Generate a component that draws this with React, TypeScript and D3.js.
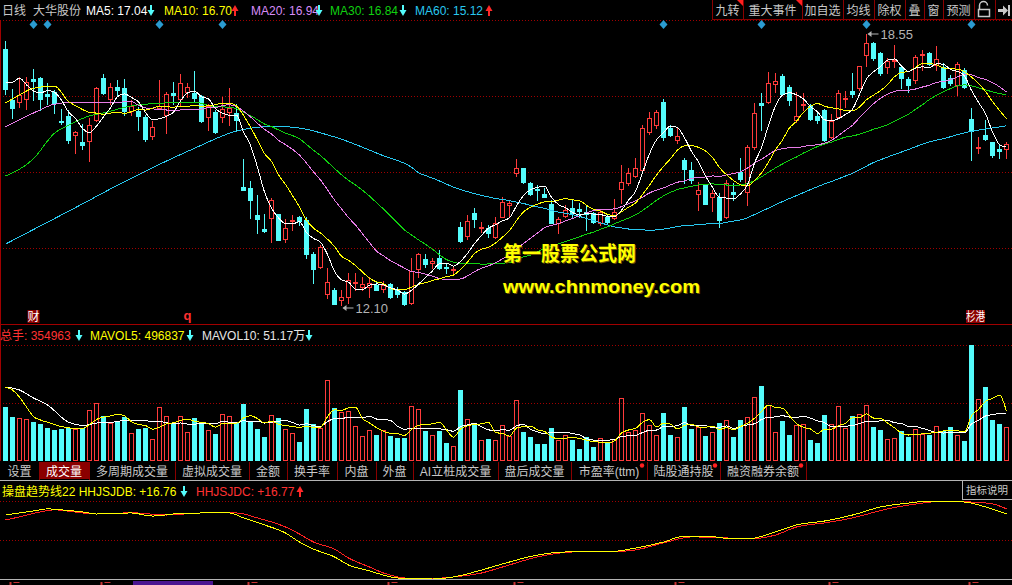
import React from "react";
import * as d3 from "d3";

type Bar = [number, number, number, number];
type Pt = [number, number];

const W = 1012;
const H = 585;

// Daily bars: [open, high, low, close]
const bars: Bar[] = [
  [18.19, 18.38, 17.12, 17.24], [16.98, 17.24, 16.55, 16.79], [16.93, 17.53, 16.81, 17.10], [17.00, 17.53, 16.76, 17.41],
  [17.48, 17.72, 16.98, 17.43], [17.50, 17.53, 16.74, 17.00], [17.12, 17.38, 16.88, 17.07], [17.17, 17.22, 16.67, 16.91],
  [16.48, 16.76, 16.41, 16.46], [16.60, 16.74, 15.96, 16.03], [16.15, 16.24, 15.72, 16.22], [15.98, 16.41, 15.81, 15.91],
  [16.00, 16.55, 15.53, 16.38], [16.50, 17.29, 16.48, 17.26], [17.50, 17.60, 17.12, 17.14], [17.00, 17.38, 16.88, 17.29],
  [17.29, 17.46, 17.07, 17.22], [17.26, 17.48, 16.62, 16.72], [16.72, 16.98, 16.62, 16.83], [16.72, 16.81, 16.26, 16.60],
  [16.57, 16.62, 16.00, 16.05], [16.12, 16.48, 16.05, 16.34], [16.79, 17.46, 16.76, 16.84], [16.62, 17.17, 16.19, 17.12],
  [17.14, 17.41, 16.88, 17.10], [17.00, 17.60, 16.84, 17.38], [17.17, 17.38, 17.05, 17.29], [17.14, 17.67, 16.93, 17.03],
  [17.07, 17.10, 16.46, 16.48], [16.57, 16.88, 16.26, 16.84], [16.69, 16.74, 16.19, 16.22], [16.57, 17.05, 16.46, 16.76],
  [16.69, 17.26, 16.38, 16.79], [16.67, 16.88, 16.26, 16.50], [14.91, 15.58, 14.84, 14.84], [14.88, 15.05, 14.17, 14.60],
  [14.24, 14.72, 13.81, 14.15], [13.91, 14.26, 13.84, 13.86], [14.17, 14.65, 13.60, 14.60], [14.26, 14.26, 13.65, 13.65],
  [13.67, 14.15, 13.60, 13.93], [14.10, 14.24, 13.88, 14.12], [14.19, 14.22, 14.00, 14.10], [14.12, 14.19, 13.22, 13.31],
  [13.31, 13.36, 12.62, 12.96], [13.00, 13.53, 12.98, 13.48], [12.36, 12.98, 12.27, 12.65], [12.45, 12.50, 12.12, 12.12],
  [12.22, 12.45, 12.10, 12.29], [12.29, 12.86, 12.15, 12.69], [12.62, 12.86, 12.45, 12.65], [12.53, 12.76, 12.45, 12.60],
  [12.53, 12.76, 12.29, 12.62], [12.57, 12.65, 12.45, 12.45], [12.48, 12.67, 12.41, 12.57], [12.60, 12.62, 12.27, 12.29],
  [12.48, 12.53, 12.29, 12.36], [12.41, 12.43, 12.11, 12.12], [12.15, 13.22, 12.12, 12.91], [12.96, 13.34, 12.76, 13.31],
  [13.19, 13.31, 13.00, 13.07], [13.10, 13.22, 12.98, 13.15], [13.22, 13.41, 12.96, 12.98], [13.00, 13.10, 12.86, 12.98],
  [12.93, 13.00, 12.86, 12.96], [13.95, 14.07, 13.60, 13.62], [13.74, 14.24, 13.67, 14.10], [14.29, 14.41, 13.95, 14.15],
  [13.93, 14.07, 13.84, 13.95], [13.93, 14.00, 13.72, 13.81], [13.72, 14.19, 13.69, 14.05], [14.19, 14.67, 14.19, 14.55],
  [14.48, 14.60, 14.19, 14.53], [15.24, 15.58, 15.17, 15.36], [15.36, 15.36, 15.00, 15.03], [15.00, 15.03, 14.72, 14.74],
  [14.86, 14.96, 14.60, 14.84], [14.74, 14.88, 14.67, 14.67], [14.50, 14.60, 14.05, 14.05], [14.05, 14.19, 13.81, 14.15],
  [14.22, 14.48, 14.19, 14.36], [14.41, 14.62, 14.19, 14.29], [14.38, 14.53, 14.19, 14.34], [14.31, 14.46, 13.88, 14.26],
  [14.29, 14.31, 14.05, 14.07], [14.05, 14.36, 14.00, 14.31], [14.19, 14.24, 14.05, 14.07], [14.17, 14.62, 14.15, 14.31],
  [14.86, 15.43, 14.53, 15.03], [15.00, 15.36, 14.96, 15.24], [15.17, 15.60, 15.15, 15.36], [15.31, 16.38, 15.26, 16.31],
  [16.22, 16.69, 16.17, 16.55], [16.38, 16.74, 16.31, 16.69], [16.93, 17.00, 16.03, 16.10], [16.31, 16.38, 16.12, 16.15],
  [16.03, 16.31, 15.96, 16.12], [15.55, 15.60, 15.00, 15.34], [15.31, 15.50, 15.00, 15.07], [14.74, 15.03, 14.36, 14.84],
  [14.96, 14.96, 14.50, 14.50], [14.67, 14.84, 14.34, 14.77], [14.67, 14.77, 13.95, 14.12], [14.19, 15.07, 14.17, 15.00],
  [14.79, 15.00, 14.60, 14.74], [15.26, 15.60, 15.05, 15.10], [14.79, 15.91, 14.48, 15.86], [15.86, 16.91, 15.81, 16.67],
  [16.91, 17.14, 16.26, 16.86], [16.93, 17.65, 16.91, 17.38], [17.36, 17.62, 17.17, 17.43], [17.55, 17.60, 17.10, 17.12],
  [17.29, 17.34, 16.86, 16.98], [16.50, 17.17, 16.46, 16.60], [16.86, 17.14, 16.74, 16.88], [16.84, 16.88, 16.50, 16.53],
  [16.60, 16.67, 16.43, 16.50], [16.74, 16.76, 16.00, 16.03], [16.10, 16.65, 16.07, 16.48], [16.57, 17.22, 16.55, 17.14],
  [17.00, 17.19, 16.81, 17.03], [17.19, 17.62, 17.05, 17.12], [17.26, 17.79, 17.22, 17.79], [18.05, 18.55, 17.79, 18.34],
  [18.34, 18.36, 17.93, 17.98], [18.10, 18.12, 17.57, 17.62], [17.76, 17.98, 17.62, 17.91], [17.91, 18.29, 17.76, 17.93],
  [17.76, 17.81, 17.26, 17.50], [17.48, 17.53, 17.17, 17.34], [17.46, 18.05, 17.38, 18.00], [18.05, 18.17, 17.69, 18.07],
  [18.10, 18.12, 17.81, 17.84], [17.81, 18.26, 17.69, 17.95], [17.76, 17.86, 17.26, 17.29], [17.50, 17.57, 17.34, 17.38],
  [17.34, 17.88, 17.10, 17.84], [17.69, 17.74, 17.26, 17.29], [16.53, 16.79, 15.55, 16.24], [15.84, 16.10, 15.72, 15.86],
  [16.15, 16.50, 16.03, 16.05], [15.98, 15.98, 15.62, 15.67], [15.81, 15.91, 15.60, 15.77], [15.81, 15.98, 15.60, 15.93],
];

// Daily volume in 万手
const volumes: number[] = [
  68.5, 55.8, 54.5, 53.2, 49.4, 46.9, 41.8, 39.3, 40.6, 42.47,
  41.2, 41.84, 64.65, 73.12, 57.68, 48.17, 51.34, 55.73, 35.4963, 40.6,
  41.8, 27.9, 68.5, 57.0, 46.9, 57.0, 36.8, 54.5, 49.4, 39.3,
  34.2, 59.6, 57.0, 49.4, 72.3, 49.4, 40.6, 30.4, 58.3, 54.5,
  40.6, 35.5, 24.1, 65.9, 46.9, 41.8, 102.7, 67.2, 62.1, 63.4,
  44.4, 31.7, 39.3, 33.0, 39.3, 31.7, 29.2, 29.2, 69.7, 65.9,
  38.0, 33.0, 38.0, 22.8, 19.0, 90.0, 53.2, 46.9, 26.6, 27.9,
  26.6, 45.6, 31.7, 77.3, 36.8, 30.4, 21.6, 21.6, 41.8, 26.6,
  33.0, 26.6, 15.2, 30.4, 17.7, 29.2, 22.8, 27.9, 79.9, 36.8,
  39.3, 60.9, 45.6, 33.0, 60.9, 33.0, 30.4, 68.5, 40.6, 43.1,
  31.7, 36.8, 48.2, 52.0, 30.4, 52.0, 55.8, 81.1, 95.1, 71.0,
  36.8, 50.7, 33.0, 45.6, 46.9, 26.6, 22.8, 58.3, 46.9, 69.7,
  41.8, 57.0, 59.6, 71.0, 43.1, 39.3, 27.9, 29.2, 38.0, 30.4,
  40.6, 34.2, 33.0, 44.4, 38.0, 43.1, 33.0, 25.4, 147.1, 78.6,
  93.8, 52.0, 46.9, 43.1,
];

// Moving-average values before each window fills: [bar index, value]
const ma5Lead: Pt[] = [[0, 17.40], [1, 17.40], [2, 17.50], [3, 17.34]];
const ma10Lead: Pt[] = [[0, 16.91], [2, 17.10], [4, 17.26], [7, 17.31]];
const ma20Lead: Pt[] = [[0, 16.34], [4, 16.67], [7, 16.88], [10, 16.93], [14, 16.91], [18, 16.94]];
const ma30Lead: Pt[] = [[0, 15.17], [4, 15.58], [7, 16.19], [9, 16.38], [12, 16.60], [14, 16.67], [18, 16.84], [23, 16.91], [27, 16.93]];
const ma60Lead: Pt[] = [[0, 13.55], [9, 14.33], [18, 15.12], [27, 15.83], [33, 16.24], [37, 16.34], [40, 16.34], [47, 16.10], [54, 15.65], [58, 15.38]];
const mavol5Lead: Pt[] = [[0, 93.8], [1, 90.0], [2, 81.1], [3, 68.5]];
const mavol10Lead: Pt[] = [[0, 93.8], [2, 90.0], [4, 79.9], [6, 71.0]];

// 操盘趋势线 values: [bar index, value]
const trendB: Pt[] = [
  [0, 16.64], [2, 16.76], [4, 16.88], [6, 17.00], [8, 16.94], [11, 16.82], [13, 16.70], [18, 16.76], [21, 16.58], [24, 16.70],
  [28, 16.76], [32, 16.76], [34, 16.47], [37, 16.06], [40, 15.59], [42, 15.06], [44, 14.65], [47, 14.19], [49, 13.72], [52, 13.37],
  [54, 13.13], [56, 12.96], [61, 12.90], [64, 13.02], [67, 13.31], [71, 13.78], [76, 14.30], [80, 14.48], [86, 14.48], [90, 14.71],
  [94, 15.06], [97, 15.41], [100, 15.41], [104, 15.24], [106, 15.24], [110, 15.65], [113, 16.06], [117, 16.29], [121, 16.64], [125, 17.11],
  [129, 17.34], [132, 17.46], [137, 17.40], [140, 17.11], [143, 16.70],
];
const trendC: Pt[] = [
  [0, 16.35], [2, 16.53], [5, 16.82], [7, 16.94], [11, 16.76], [13, 16.70], [18, 16.77], [23, 16.64], [28, 16.76], [33, 16.76],
  [36, 16.47], [40, 15.94], [42, 15.53], [44, 15.06], [47, 14.65], [49, 14.13], [52, 13.60], [54, 13.25], [56, 13.02], [59, 12.90],
  [64, 13.02], [68, 13.25], [71, 13.60], [76, 14.19], [81, 14.48], [86, 14.48], [90, 14.60], [94, 15.01], [98, 15.36], [103, 15.30],
  [106, 15.24], [110, 15.47], [113, 15.94], [117, 16.18], [121, 16.47], [126, 17.00], [131, 17.34], [134, 17.46], [138, 17.40], [141, 17.29],
  [143, 17.00],
];

// Bars carrying an event marker
const eventBars = [4, 6, 22, 31, 94, 108, 123, 138];

// Bars whose date labels sit in the clipped strip under the last panel
const dateLabelBars = [1, 14, 35, 55, 73, 96, 118, 138];

const volumeTabs = ["设置", "成交量", "多周期成交量", "虚拟成交量", "金额", "换手率", "内盘", "外盘", "AI立桩成交量", "盘后成交量", "市盈率(ttm)", "陆股通持股", "融资融券余额"];
const toolButtons = ["九转", "重大事件", "加自选", "均线", "除权", "叠", "窗", "预测"];

const RED = "#ff3b3b";
const CYAN = "#54fcfc";
const GRID = "#a00000";
const BORDER = "#a00000";
const LIGHT = "#c8c8c8";
const FONT = "'Liberation Sans', Arial, 'Noto Sans CJK SC', sans-serif";

function movingAverage(values: number[], period: number, lead: Pt[]): Pt[] {
  const pts: Pt[] = lead.map((p) => [p[0], p[1]] as Pt);
  for (let i = period - 1; i < values.length; i++) {
    pts.push([i, d3.mean(values.slice(i - period + 1, i + 1)) as number]);
  }
  return pts;
}

function Arrow({ x, y, dir, color }: { x: number; y: number; dir: "up" | "down"; color: string }) {
  if (dir === "down") {
    return (
      <g fill={color}>
        <rect x={x - 1} y={y} width={2} height={6} />
        <path d={`M${x - 3.5},${y + 5}L${x + 3.5},${y + 5}L${x},${y + 11}Z`} />
      </g>
    );
  }
  return (
    <g fill={color}>
      <path d={`M${x},${y}L${x - 3.5},${y + 6}L${x + 3.5},${y + 6}Z`} />
      <rect x={x - 1} y={y + 5} width={2} height={6} />
    </g>
  );
}

export default function App() {
  const n = bars.length;
  const x = d3.scaleBand<number>().domain(d3.range(n)).range([2, 1010]);
  const cx = (i: number) => (x(i) as number) + x.bandwidth() / 2;

  const yP = d3
    .scaleLinear()
    .domain([d3.min(bars, (b) => b[2]) as number, d3.max(bars, (b) => b[1]) as number])
    .range([305, 34]);
  const yV = d3.scaleLinear().domain([0, d3.max(volumes) as number]).range([461, 345]);
  const yT = d3
    .scaleLinear()
    .domain(d3.extent([...trendB, ...trendC].map((d) => d[1])) as [number, number])
    .range([579, 501]);

  const closes = bars.map((b) => b[3]);
  const priceLine = d3.line<Pt>().x((d) => cx(d[0])).y((d) => yP(d[1])).curve(d3.curveMonotoneX);
  const volLine = d3.line<Pt>().x((d) => cx(d[0])).y((d) => yV(d[1])).curve(d3.curveMonotoneX);
  const trendLine = d3.line<Pt>().x((d) => cx(d[0])).y((d) => yT(d[1])).curve(d3.curveMonotoneX);

  const maLines = [
    { pts: movingAverage(closes, 60, ma60Lead), color: "#28c8f0" },
    { pts: movingAverage(closes, 30, ma30Lead), color: "#10d010" },
    { pts: movingAverage(closes, 20, ma20Lead), color: "#e87ce8" },
    { pts: movingAverage(closes, 10, ma10Lead), color: "#ffff00" },
    { pts: movingAverage(closes, 5, ma5Lead), color: "#ffffff" },
  ];
  const mavol10 = movingAverage(volumes, 10, mavol10Lead);
  const mavol5 = movingAverage(volumes, 5, mavol5Lead);

  const hiIdx = d3.maxIndex(bars, (b) => b[1]);
  const loIdx = d3.minIndex(bars, (b) => b[2]);

  const tabEdges = [0, 39, 89, 175, 249, 287, 337, 376, 413, 498, 571, 647, 720, 806];
  const btnEdges = [712, 743, 802, 843, 874, 905, 924, 943, 974, 995, 1012];

  const maLegend = [
    { text: "MA5: 17.04", color: "#ffffff", x: 86, ax: 151, dir: "down" as const },
    { text: "MA10: 16.70", color: "#ffff00", x: 164, ax: 235, dir: "up" as const },
    { text: "MA20: 16.94", color: "#d88cf8", x: 251, ax: 319, dir: "down" as const },
    { text: "MA30: 16.84", color: "#10d010", x: 330, ax: 403, dir: "down" as const },
    { text: "MA60: 15.12", color: "#28c8f0", x: 415, ax: 489, dir: "up" as const },
  ];

  const dotted = (y: number, x0 = 0, x1 = W) => (
    <line x1={x0} x2={x1} y1={y + 0.5} y2={y + 0.5} stroke={GRID} strokeDasharray="1 2" />
  );

  return (
    <div style={{ position: "fixed", left: 0, top: 0, width: W, height: H, background: "#000" }}>
      <svg width={W} height={H} style={{ display: "block", fontFamily: FONT }}>
        <rect width={W} height={H} fill="#000" />

        {/* header legend */}
        <text x={2} y={15} fontSize={12} fill={LIGHT}>日线</text>
        <text x={33} y={15} fontSize={12} fill={LIGHT}>大华股份</text>
        {maLegend.map((m) => (
          <g key={m.text}>
            <text x={m.x} y={15} fontSize={12} fill={m.color}>{m.text}</text>
            <Arrow x={m.ax} y={5} dir={m.dir} color={m.dir === "down" ? CYAN : "#ff2828"} />
          </g>
        ))}

        {/* toolbar */}
        {toolButtons.map((b, i) => {
          const x0 = btnEdges[i];
          const x1 = btnEdges[i + 1];
          return (
            <g key={b}>
              <text x={(x0 + x1) / 2} y={15} fontSize={12} fill={LIGHT} textAnchor="middle">{b}</text>
              {i < 2 && <path d={`M${x1 - 6},0L${x1},0L${x1},6Z`} fill="#ff2020" />}
            </g>
          );
        })}
        {btnEdges.slice(0, -1).map((e) => (
          <line key={e} x1={e + 0.5} x2={e + 0.5} y1={0} y2={19} stroke="#8a0000" />
        ))}
        <line x1={712} x2={W} y1={19.5} y2={19.5} stroke="#8a0000" />
        {/* lock icon */}
        <path d="M979.5,9.5V5.5a4,4 0 0 1 8,0" fill="none" stroke={LIGHT} strokeWidth={1.5} />
        <rect x={978.5} y={9.5} width={11} height={7} fill="none" stroke={LIGHT} strokeWidth={1.5} />
        {/* expand icon */}
        <path d="M998,9H1003V5.5L1008,10.5L1003,15.5V12H998Z" fill={LIGHT} />
        <rect x={1008} y={5} width={2} height={11} fill={LIGHT} />

        {/* main panel frame and grid */}
        {dotted(20)}
        {dotted(96)}
        {dotted(172)}
        {dotted(248)}
        <line x1={0.5} x2={0.5} y1={20} y2={461} stroke={BORDER} />
        <line x1={0} x2={W} y1={324.5} y2={324.5} stroke={BORDER} />

        {/* event diamonds */}
        {eventBars.map((i) => (
          <path key={i} d={`M${cx(i)},20L${cx(i) + 4},24.5L${cx(i)},29L${cx(i) - 4},24.5Z`} fill="#2b9bd1" />
        ))}

        {/* candles */}
        <g shapeRendering="crispEdges">
          {bars.map(([o, h, l, c], i) => {
            const up = c >= o;
            const color = up ? RED : CYAN;
            const left = cx(i) - 2.5;
            const top = Math.round(yP(Math.max(o, c)));
            const bot = Math.round(yP(Math.min(o, c)));
            const hi = Math.round(yP(h));
            const lo = Math.round(yP(l));
            return (
              <g key={i}>
                {hi < top && <line x1={cx(i)} x2={cx(i)} y1={hi} y2={top} stroke={color} />}
                {lo > bot && <line x1={cx(i)} x2={cx(i)} y1={bot + 1} y2={lo + 1} stroke={color} />}
                {bot - top < 1 ? (
                  <rect x={left} y={top} width={5} height={1} fill={color} />
                ) : up ? (
                  <rect x={left + 0.5} y={top + 0.5} width={4} height={bot - top} fill="#000" stroke={color} />
                ) : (
                  <rect x={left} y={top} width={5} height={bot - top + 1} fill={color} />
                )}
              </g>
            );
          })}
        </g>

        {/* moving averages */}
        <g fill="none" shapeRendering="crispEdges">
          {maLines.map((m) => (
            <path key={m.color} d={priceLine(m.pts) as string} stroke={m.color} strokeWidth={1} />
          ))}
        </g>

        {/* high / low annotations */}
        <g fill="#b4b4b4" stroke="#b4b4b4">
          <line x1={cx(hiIdx) + 2} x2={cx(hiIdx) + 12} y1={yP(bars[hiIdx][1])} y2={yP(bars[hiIdx][1])} />
          <path d={`M${cx(hiIdx) + 1},${yP(bars[hiIdx][1])}l4,-3v6Z`} stroke="none" />
          <text x={cx(hiIdx) + 14} y={yP(bars[hiIdx][1]) + 5} fontSize={13} stroke="none">{bars[hiIdx][1].toFixed(2)}</text>
          <line x1={cx(loIdx) + 2} x2={cx(loIdx) + 12} y1={yP(bars[loIdx][2]) + 3} y2={yP(bars[loIdx][2]) + 3} />
          <path d={`M${cx(loIdx) + 1},${yP(bars[loIdx][2]) + 3}l4,-3v6Z`} stroke="none" />
          <text x={cx(loIdx) + 14} y={yP(bars[loIdx][2]) + 8} fontSize={13} stroke="none">{bars[loIdx][2].toFixed(2)}</text>
        </g>

        {/* bottom markers */}
        <rect x={cx(4) - 6} y={310} width={12} height={13} fill="#8b0000" />
        <text x={cx(4)} y={321} fontSize={12} fill="#fff" textAnchor="middle">财</text>
        <text x={cx(26)} y={320} fontSize={13} fontWeight="bold" fill="#ff3030" textAnchor="middle">q</text>
        <rect x={966} y={310} width={19} height={13} fill="#8b0000" />
        <text x={975.5} y={321} fontSize={12} fill="#fff" textAnchor="middle" textLength={19} lengthAdjust="spacingAndGlyphs">杉港</text>

        {/* watermark */}
        <g fontWeight="bold">
          <text x={504} y={262} fontSize={20} fill="#6a5200" textLength={133} lengthAdjust="spacingAndGlyphs">第一股票公式网</text>
          <text x={503} y={261} fontSize={20} fill="#ffff00" textLength={133} lengthAdjust="spacingAndGlyphs">第一股票公式网</text>
          <text x={504} y={294} fontSize={19} fill="#6a5200" textLength={197} lengthAdjust="spacingAndGlyphs">www.chnmoney.com</text>
          <text x={503} y={293} fontSize={19} fill="#ffff00" textLength={197} lengthAdjust="spacingAndGlyphs">www.chnmoney.com</text>
        </g>

        {/* volume panel */}
        <text x={0} y={340} fontSize={12} fill="#ff3232">总手: 354963</text>
        <Arrow x={79} y={330} dir="down" color={CYAN} />
        <text x={90} y={340} fontSize={12} fill="#ffff00">MAVOL5: 496837</text>
        <Arrow x={190} y={330} dir="down" color={CYAN} />
        <text x={202} y={340} fontSize={12} fill="#e6e6e6">MAVOL10: 51.17万</text>
        <Arrow x={309} y={330} dir="down" color={CYAN} />
        {dotted(345)}
        {dotted(403)}
        <g shapeRendering="crispEdges">
          {volumes.map((v, i) => {
            const up = bars[i][3] >= bars[i][0];
            const left = cx(i) - 2.5;
            const top = Math.round(yV(v));
            return up ? (
              <rect key={i} x={left + 0.5} y={top + 0.5} width={4} height={460 - top} fill="none" stroke={RED} />
            ) : (
              <rect key={i} x={left} y={top} width={5} height={461 - top} fill={CYAN} />
            );
          })}
        </g>
        <g fill="none" shapeRendering="crispEdges">
          <path d={volLine(mavol10) as string} stroke="#ffffff" />
          <path d={volLine(mavol5) as string} stroke="#ffff00" />
        </g>

        {/* indicator tabs */}
        <rect x={tabEdges[1]} y={462} width={tabEdges[2] - tabEdges[1]} height={17} fill="#8b0000" />
        {volumeTabs.map((t, i) => {
          const x0 = tabEdges[i];
          const x1 = tabEdges[i + 1];
          return (
            <g key={t}>
              <text x={(x0 + x1) / 2} y={476} fontSize={12} fill={i === 1 ? "#ffffff" : LIGHT} textAnchor="middle">{t}</text>
              {i >= 10 && <circle cx={x1 - 5} cy={465.5} r={2.2} fill="#ff2020" />}
              <line x1={x1 + 0.5} x2={x1 + 0.5} y1={462} y2={480} stroke="#8a0000" />
            </g>
          );
        })}
        <line x1={0} x2={W} y1={480.5} y2={480.5} stroke="#b4b4b4" />

        {/* 操盘趋势线 panel */}
        <text x={2} y={496} fontSize={12} fill="#ffff00">操盘趋势线22 HHJSJDB: +16.76</text>
        <Arrow x={184} y={486} dir="down" color={CYAN} />
        <text x={196} y={496} fontSize={12} fill="#ff3232">HHJSJDC: +16.77</text>
        <Arrow x={300} y={486} dir="up" color="#ff2828" />
        <line x1={962.5} x2={962.5} y1={481} y2={499} stroke="#b4b4b4" />
        <line x1={962} x2={W} y1={499.5} y2={499.5} stroke="#b4b4b4" />
        <text x={966} y={494} fontSize={10.5} fill={LIGHT}>指标说明</text>
        {dotted(501, 0, 962)}
        {dotted(540)}
        <g fill="none" shapeRendering="crispEdges">
          <path d={trendLine(trendC) as string} stroke="#ff2020" />
          <path d={trendLine(trendB) as string} stroke="#ffff00" />
        </g>
        <line x1={0} x2={W} y1={579.5} y2={579.5} stroke="#b4b4b4" />

        {/* date strip, clipped by the window edge */}
        <rect x={133} y={581} width={80} height={4} fill="#4b1590" />
        <g fill="#c83232">
          {dateLabelBars.map((i) => (
            <g key={i}>
              <rect x={cx(i) - 3} y={582} width={2} height={3} />
              <rect x={cx(i) + 1} y={582} width={6} height={1} />
            </g>
          ))}
        </g>
      </svg>
    </div>
  );
}
